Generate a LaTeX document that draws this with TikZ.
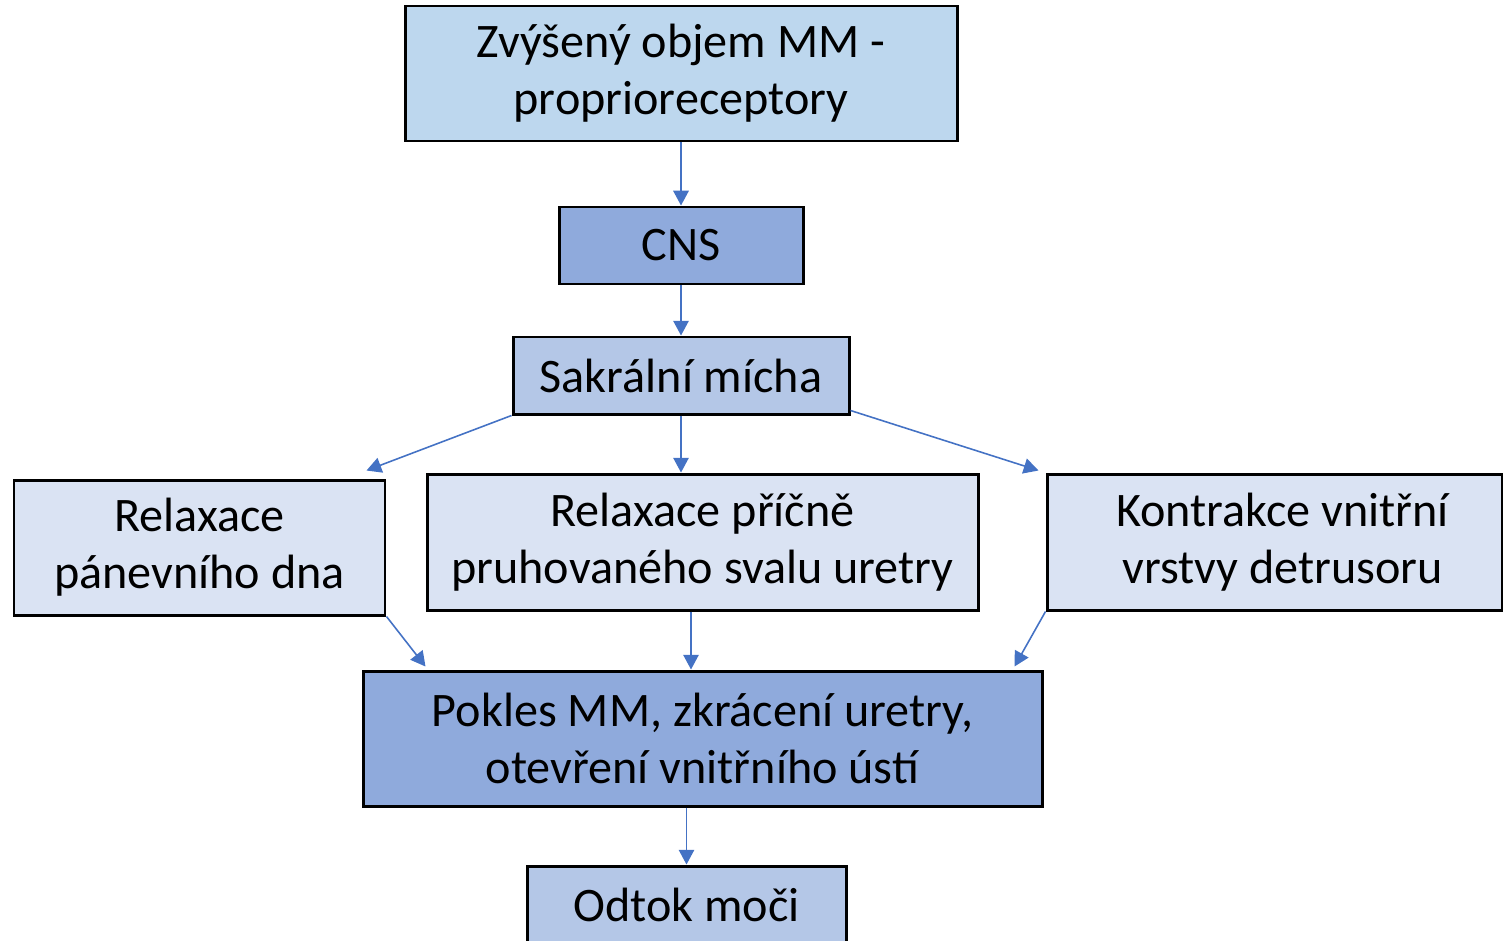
\documentclass[tikz,border=0pt]{standalone}
\usepackage{fontspec}
\setmainfont{Carlito}
\usetikzlibrary{positioning, arrows.meta}

\definecolor{boxpale}{HTML}{DAE3F3}
\definecolor{boxlight}{HTML}{B4C7E7}
\definecolor{boxsky}{HTML}{BDD7EE}
\definecolor{boxdark}{HTML}{8FAADC}
\definecolor{arrowblue}{HTML}{4472C4}

\begin{document}
\begin{tikzpicture}[x=0.1mm, y=-0.1mm]
    % settings for this picture
    \tikzset{
      flowbox/.style={draw=black, line width=0.85pt, align=center, inner sep=0pt,
        font=\fontsize{13.7}{16.2}\selectfont},
      flow/.style={draw=arrowblue, line width=0.45pt,
        -{Triangle[length=4.2pt, width=4.4pt]}},
    }
    \useasboundingbox (0,0) rectangle (1503,940);

    % boxes
    \node[flowbox, fill=boxsky, minimum width=55.2mm, minimum height=13.5mm]
      at (681,73.5) (volume) {Zvýšený objem MM -\\proprioreceptory};
    \node[flowbox, fill=boxdark, minimum width=24.4mm, minimum height=7.7mm]
      at (681,245.5) (cns) {CNS};
    \node[flowbox, fill=boxlight, minimum width=33.6mm, minimum height=7.7mm]
      at (681,375.5) (sacral) {Sakrální mícha};
    \node[flowbox, fill=boxpale, minimum width=37.1mm, minimum height=13.5mm]
      at (199.5,547.5) (floor) {Relaxace\\pánevního dna};
    \node[flowbox, fill=boxpale, minimum width=55.1mm, minimum height=13.6mm]
      at (702.5,542) (urethra) {Relaxace příčně\\pruhovaného svalu uretry};
    \node[flowbox, fill=boxpale, minimum width=45.5mm, minimum height=13.6mm]
      at (1274.5,542) (detrusor) {\hspace*{1.6mm}Kontrakce vnitřní\\\hspace*{1.6mm}vrstvy detrusoru};
    \node[flowbox, fill=boxdark, minimum width=67.9mm, minimum height=13.5mm]
      at (702.5,738.5) (drop) {Pokles MM, zkrácení uretry,\\otevření vnitřního ústí};
    \node[flowbox, fill=boxlight, minimum width=31.9mm, minimum height=7.7mm]
      at (686.5,904.5) (outflow) {Odtok moči};

    % connectors
    \draw[flow] (volume.south) -- (cns.north);
    \draw[flow] (cns.south) -- (sacral.north);
    \draw[flow] (sacral.south west) -- ([shift={(-2mm,0.8mm)}]floor.north east);
    \draw[flow] (sacral.south) -- (sacral.south |- urethra.north);
    \draw[flow] ([yshift=0.5mm]sacral.south east) -- ([shift={(-0.7mm,0.2mm)}]detrusor.north west);
    \draw[flow] (floor.south east) -- ([shift={(6.4mm,0.3mm)}]drop.north west);
    \draw[flow] ([xshift=-1.15mm]urethra.south) -- ([xshift=-1.15mm]urethra.south |- drop.north);
    \draw[flow] (detrusor.south west) -- ([shift={(-2.9mm,0.3mm)}]drop.north east);
    \draw[flow] (outflow |- drop.south) -- (outflow.north);

  \end{tikzpicture}
\end{document}
